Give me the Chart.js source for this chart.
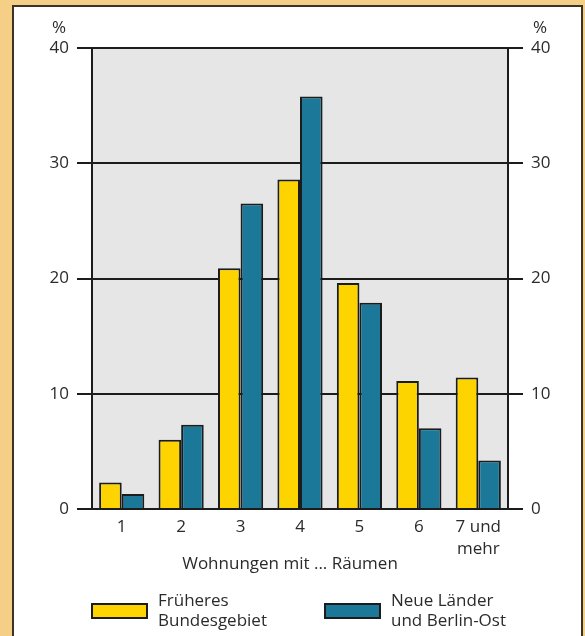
<!DOCTYPE html>
<html>
<head>
<meta charset="utf-8">
<script src="https://cdn.jsdelivr.net/npm/chart.js@4"></script>
<style>
  html, body { margin: 0; padding: 0; background: #f6cf86; }
  #wrap { position: relative; width: 585px; height: 636px; }
</style>
</head>
<body>
<div id="wrap"><canvas id="grafik"></canvas></div>
<script>
const kategorien = ["1", "2", "3", "4", "5", "6", ["7 und", "mehr"]];
const frueheresBundesgebiet = [2.3, 6.0, 20.9, 28.6, 19.6, 11.1, 11.4];
const neueLaender = [1.3, 7.3, 26.5, 35.8, 17.9, 7.0, 4.2];
const yTicks = [0, 10, 20, 30, 40];
const legendeText = [
  ["Früheres", "Bundesgebiet"],
  ["Neue Länder", "und Berlin-Ost"],
];

const schrift = "'Open Sans', sans-serif";
const textFarbe = "#2b2b2b";
const linie = "#1c1c1c";

// Hintergrund: orange Rahmen, weisses Feld, graue Zeichenfläche
const hintergrund = {
  id: "hintergrund",
  beforeDraw(chart) {
    const { ctx, chartArea: a } = chart;
    ctx.save();
    ctx.fillStyle = "#f6cf86";
    ctx.fillRect(0, 0, chart.width, chart.height);
    ctx.fillStyle = "#ffffff";
    ctx.fillRect(13, 6, 569, 640);
    ctx.strokeStyle = "#3b3326";
    ctx.lineWidth = 2;
    ctx.strokeRect(13, 6, 569, 640);
    ctx.fillStyle = "#e7e6e6";
    ctx.fillRect(a.left, a.top, a.right - a.left, a.bottom - a.top);
    ctx.restore();
  },
};

// Beschriftungen: %-Zeichen, Achsentitel, Legende
const beschriftung = {
  id: "beschriftung",
  afterDraw(chart) {
    const { ctx } = chart;
    ctx.save();
    ctx.fillStyle = textFarbe;
    ctx.font = "17px " + schrift;
    ctx.textAlign = "center";
    ctx.textBaseline = "middle";
    ctx.fillText("%", 59, 28);
    ctx.fillText("%", 540, 28);
    ctx.fillText("Wohnungen mit ... Räumen", 290, 564);

    const boxX = [92, 325];
    chart.data.datasets.forEach((ds, i) => {
      ctx.fillStyle = ds.backgroundColor;
      ctx.fillRect(boxX[i], 604, 55, 14);
      ctx.strokeStyle = linie;
      ctx.lineWidth = 2;
      ctx.strokeRect(boxX[i], 604, 55, 14);
      ctx.fillStyle = textFarbe;
      ctx.textAlign = "left";
      ctx.textBaseline = "alphabetic";
      legendeText[i].forEach((t, j) => {
        ctx.fillText(t, boxX[i] + 66, 606 + j * 20);
      });
    });
    ctx.restore();
  },
};

const yAchse = (pos, breite) => ({
  type: "linear",
  position: pos,
  min: 0,
  max: 40,
  afterBuildTicks: (s) => { s.ticks = yTicks.map((v) => ({ value: v })); },
  afterFit: (s) => { s.width = breite; },
  grid: {
    color: linie,
    lineWidth: 2,
    tickLength: 15,
    drawOnChartArea: pos === "left",
  },
  border: { display: true, color: linie, width: 2 },
  ticks: {
    padding: 8,
    color: textFarbe,
    font: { family: schrift, size: 17 },
  },
});

new Chart(document.getElementById("grafik"), {
  type: "bar",
  data: {
    labels: kategorien,
    datasets: [
      {
        label: "Früheres Bundesgebiet",
        data: frueheresBundesgebiet,
        backgroundColor: "#fdd400",
        borderColor: linie,
        borderWidth: 2,
        yAxisID: "y",
      },
      {
        label: "Neue Länder und Berlin-Ost",
        data: neueLaender,
        backgroundColor: "#1b7899",
        borderColor: linie,
        borderWidth: 2,
        yAxisID: "y",
      },
    ],
  },
  options: {
    responsive: true,
    maintainAspectRatio: false,
    animation: false,
    categoryPercentage: 0.76,
    barPercentage: 1.0,
    layout: { padding: { top: 48, left: 0, right: 0, bottom: 0 } },
    plugins: {
      legend: { display: false },
      tooltip: { enabled: false },
    },
    scales: {
      x: {
        grid: { display: false, drawTicks: false, tickLength: 0 },
        border: { display: false },
        afterFit: (s) => { s.height = 127; },
        ticks: {
          padding: 7,
          color: textFarbe,
          maxRotation: 0,
          font: { family: schrift, size: 17, lineHeight: 1.3 },
        },
      },
      y: yAchse("left", 92),
      y2: yAchse("right", 77),
    },
  },
  plugins: [hintergrund, beschriftung],
});
</script>
</body>
</html>
